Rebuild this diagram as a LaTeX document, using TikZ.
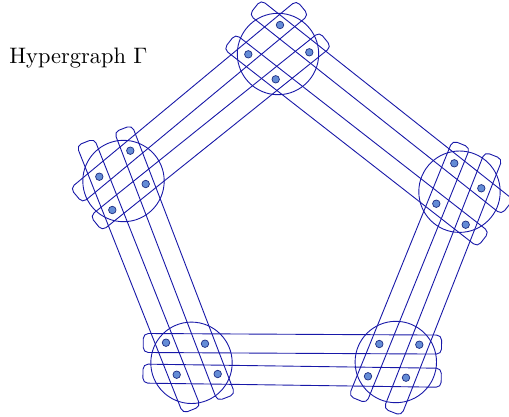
\documentclass[tikz,border=0pt]{standalone}
\usetikzlibrary{calc}
\definecolor{edgeblue}{RGB}{24,24,168}
\definecolor{dotfill}{RGB}{100,140,214}
\definecolor{dotline}{RGB}{30,45,130}
\tikzset{
  vgroup/.style={circle, draw=edgeblue, line width=0.9pt, minimum size=81.4pt, inner sep=0pt},
  vertex/.style={circle, draw=dotline, fill=dotfill, line width=0.7pt, minimum size=7.5pt, inner sep=0pt},
  hyperedge/.style={rectangle, draw=edgeblue, line width=0.9pt, rounded corners=5pt,
    minimum height=19pt, inner sep=0pt},
}
% \hedge{name}{v1}{v2}{w1}{w2}{group of v}{group of w}
\newcommand\hedge[7]{%
  \path let \p1=($(#2)!0.5!(#3)$), \p2=($(#4)!0.5!(#5)$), \p3=($(#7)-(#6)$),
    \n1={atan2(\y2-\y1,\x2-\x1)}, \n2={veclen(\x3,\y3)+94} in
    node[hyperedge, rotate=\n1, minimum width=\n2] (#1) at ($(\p1)!0.5!(\p2)$) {};
}
\begin{document}
\begin{tikzpicture}[x=1pt, y=-1pt]
\useasboundingbox (0,0) rectangle (509,416);

\node[anchor=base west, inner sep=0pt, scale=2.24, transform shape,
  font=\fontsize{10}{12}\selectfont] (title) at (9,63) {Hypergraph $\Gamma$};

% vertex groups
\node[vgroup] (T)  at (278,54) {};
\node[vgroup] (L)  at (123.5,181) {};
\node[vgroup] (R)  at (459.5,191.7) {};
\node[vgroup] (BL) at (191.5,362.8) {};
\node[vgroup] (BR) at (395.8,362) {};

% vertex positions
\coordinate (t1) at (280,25);    \coordinate (t2) at (248.3,54.3);
\coordinate (t3) at (309.3,52.3);\coordinate (t4) at (275.7,79.3);
\coordinate (l1) at (130.3,150.7);\coordinate (l2) at (99.3,176.7);
\coordinate (l3) at (145.7,184); \coordinate (l4) at (112.3,210);
\coordinate (r1) at (454.3,163.3);\coordinate (r2) at (481.3,188.3);
\coordinate (r3) at (436.3,203.7);\coordinate (r4) at (465.7,224.7);
\coordinate (a1) at (166,342.7); \coordinate (a2) at (205,343.7);
\coordinate (a3) at (176.7,374.7);\coordinate (a4) at (217.7,374);
\coordinate (b1) at (379.3,344); \coordinate (b2) at (419.3,344.7);
\coordinate (b3) at (368,376.3); \coordinate (b4) at (406,377.7);

% hyperedges, two between each pair of neighbouring groups
\hedge{e1}{t1}{t2}{l1}{l2}{T}{L}
\hedge{e2}{t3}{t4}{l3}{l4}{T}{L}
\hedge{e3}{t1}{t3}{r1}{r2}{T}{R}
\hedge{e4}{t2}{t4}{r3}{r4}{T}{R}
\hedge{e5}{r1}{r3}{b1}{b3}{R}{BR}
\hedge{e6}{r2}{r4}{b2}{b4}{R}{BR}
\hedge{e7}{a1}{a2}{b1}{b2}{BL}{BR}
\hedge{e8}{a3}{a4}{b3}{b4}{BL}{BR}
\hedge{e9}{l1}{l3}{a2}{a4}{L}{BL}
\hedge{e10}{l2}{l4}{a1}{a3}{L}{BL}

% vertices
\foreach \v in {t1,t2,t3,t4,l1,l2,l3,l4,r1,r2,r3,r4,a1,a2,a3,a4,b1,b2,b3,b4}
  \node[vertex] (v-\v) at (\v) {};
\end{tikzpicture}
\end{document}
